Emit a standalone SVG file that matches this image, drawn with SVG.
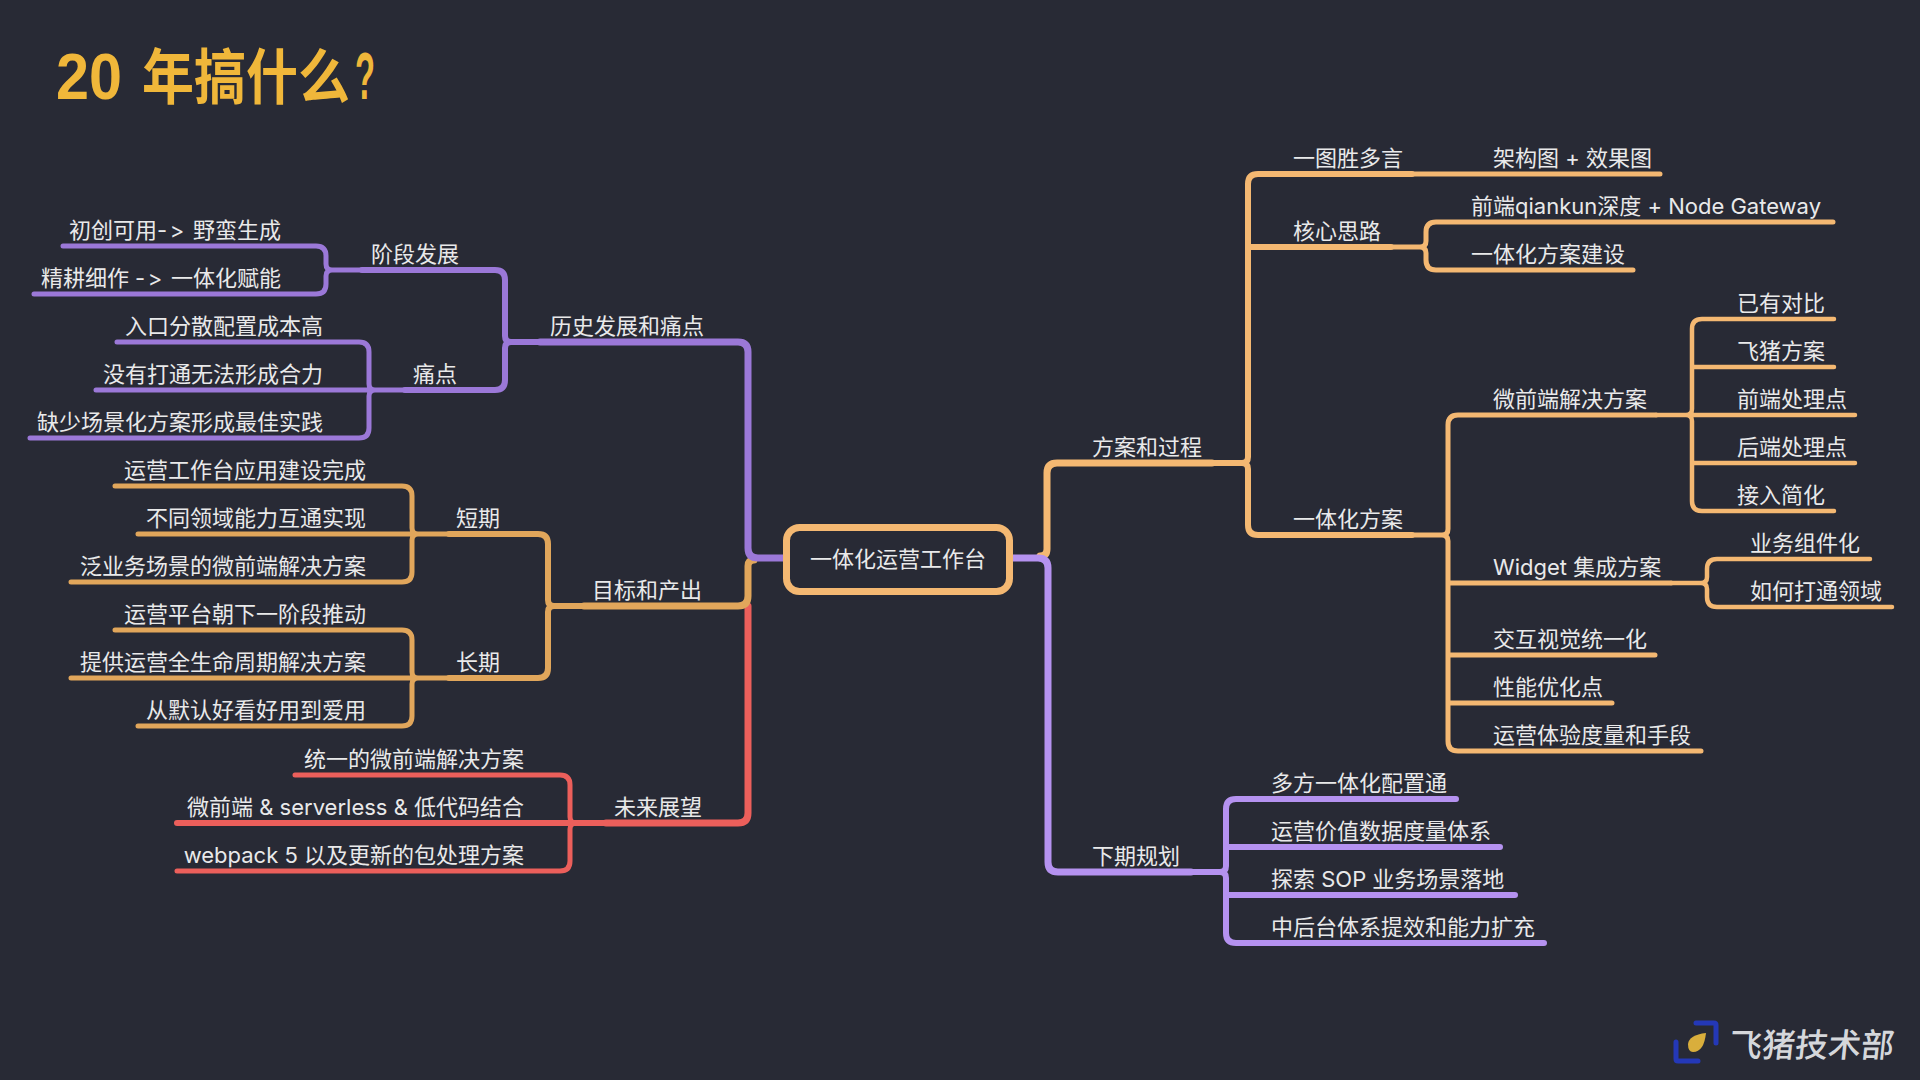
<svg xmlns="http://www.w3.org/2000/svg" width="1920" height="1080" viewBox="0 0 1920 1080">
<style>
text{font-family:"Inter","Noto Sans CJK SC",sans-serif;font-size:22px;fill:#e9e9ea;font-variant-ligatures:none;font-feature-settings:"calt" 0,"liga" 0}
.e{text-anchor:end}
.a{letter-spacing:2.5px}
path{fill:none;stroke-linecap:round}
.pl{stroke:#9b78d8}.ol{stroke:#e1a65b}.r{stroke:#ec5f5b}.or{stroke:#f4b872}.pr{stroke:#b592f0}
.w7{stroke-width:7}.w6{stroke-width:6}.w5{stroke-width:5}.w4{stroke-width:4.5}
</style>
<rect width="1920" height="1080" fill="#282a35"/>
<text id="title" y="99" style="font-size:60px;font-weight:700;font-family:'Liberation Sans','Noto Sans CJK SC',sans-serif;fill:#f0b73a"><tspan x="56" textLength="66" lengthAdjust="spacingAndGlyphs" style="font-size:65px">20</tspan> <tspan x="142" textLength="208" lengthAdjust="spacingAndGlyphs">年搞什么</tspan><tspan x="355" textLength="20" lengthAdjust="spacingAndGlyphs" style="font-size:66px">?</tspan></text>
<g id="connectors">
<path class="r w7" d="M748,606V813Q748,823 738,823H606"/>
<path class="ol w7" d="M754,560Q748,560 748,566V596Q748,606 738,606H584"/>
<path class="pl w7" d="M785,558H758Q748,558 748,548V352Q748,342 738,342H540"/>
<path class="pl w6" d="M540,342H511Q505,342 505,336V280Q505,270 495,270H362M511,342Q505,342 505,348V380Q505,390 495,390H405"/>
<path class="pl w5" d="M362,270H332Q326,270 326,264V256Q326,246 316,246H63M332,270Q326,270 326,276V284Q326,294 316,294H34"/>
<path class="pl w5" d="M405,390H96M375,390Q369,390 369,384V352Q369,342 359,342H117M375,390Q369,390 369,396V428Q369,438 359,438H30"/>
<path class="ol w6" d="M584,606H554Q548,606 548,600V544Q548,534 538,534H449M554,606Q548,606 548,612V668Q548,678 538,678H449"/>
<path class="ol w5" d="M449,534H138M418,534Q412,534 412,528V496Q412,486 402,486H115M418,534Q412,534 412,540V572Q412,582 402,582H71"/>
<path class="ol w5" d="M449,678H71M418,678Q412,678 412,672V640Q412,630 402,630H115M418,678Q412,678 412,684V716Q412,726 402,726H138"/>
<path class="r w6" d="M606,823H177"/>
<path class="r w5" d="M576,823Q570,823 570,817V785Q570,775 560,775H295M576,823Q570,823 570,829V861Q570,871 560,871H177"/>
<path class="or w7" d="M1040,556Q1047,556 1047,549V473Q1047,463 1057,463H1212"/>
<path class="pr w7" d="M1013,558H1038Q1048,558 1048,568V862Q1048,872 1058,872H1191"/>
<path class="or w6" d="M1212,463H1242Q1248,463 1248,457V184Q1248,174 1258,174H1412M1248,247H1391M1242,463Q1248,463 1248,469V525Q1248,535 1258,535H1412"/>
<path class="or w5" d="M1412,174H1660M1391,247H1420Q1426,247 1426,241V232Q1426,222 1436,222H1833M1420,247Q1426,247 1426,253V260Q1426,270 1436,270H1633"/>
<path class="or w5" d="M1412,535H1442Q1448,535 1448,529V425Q1448,415 1458,415H1656M1442,535Q1448,535 1448,541V741Q1448,751 1458,751H1701M1448,583H1671M1448,655H1655M1448,703H1612"/>
<path class="or w4" d="M1656,415H1855M1686,415Q1692,415 1692,409V329Q1692,319 1702,319H1834M1692,367H1834M1686,415Q1692,415 1692,421V501Q1692,511 1702,511H1834M1692,463H1855"/>
<path class="or w4" d="M1671,583H1701Q1707,583 1707,577V569Q1707,559 1717,559H1870M1701,583Q1707,583 1707,589V597Q1707,607 1717,607H1892"/>
<path class="pr w6" d="M1191,872H1220Q1226,872 1226,866V809Q1226,799 1236,799H1456M1226,847H1500M1226,895H1515M1220,872Q1226,872 1226,878V933Q1226,943 1236,943H1544"/>
</g>
<g id="root"><rect x="786.5" y="527.5" width="223" height="64" rx="13" fill="#282a35" stroke="#f4b872" stroke-width="7"/><text x="898" y="567" text-anchor="middle">一体化运营工作台</text></g>
<g id="n-history"><text class="e" x="704" y="334">历史发展和痛点</text></g>
<g id="n-stage"><text class="e" x="459" y="262">阶段发展</text></g>
<g id="n-s1"><text class="e" x="281" y="238">初创可用<tspan class="a">-&gt;</tspan> 野蛮生成</text></g>
<g id="n-s2"><text class="e" x="281" y="286">精耕细作 <tspan class="a">-&gt;</tspan> 一体化赋能</text></g>
<g id="n-pain"><text class="e" x="457" y="382">痛点</text></g>
<g id="n-p1"><text class="e" x="323" y="334">入口分散配置成本高</text></g>
<g id="n-p2"><text class="e" x="323" y="382">没有打通无法形成合力</text></g>
<g id="n-p3"><text class="e" x="323" y="430">缺少场景化方案形成最佳实践</text></g>
<g id="n-goal"><text class="e" x="702" y="598">目标和产出</text></g>
<g id="n-short"><text class="e" x="500" y="526">短期</text></g>
<g id="n-g1"><text class="e" x="366" y="478">运营工作台应用建设完成</text></g>
<g id="n-g2"><text class="e" x="366" y="526">不同领域能力互通实现</text></g>
<g id="n-g3"><text class="e" x="366" y="574">泛业务场景的微前端解决方案</text></g>
<g id="n-long"><text class="e" x="500" y="670">长期</text></g>
<g id="n-g4"><text class="e" x="366" y="622">运营平台朝下一阶段推动</text></g>
<g id="n-g5"><text class="e" x="366" y="670">提供运营全生命周期解决方案</text></g>
<g id="n-g6"><text class="e" x="366" y="718">从默认好看好用到爱用</text></g>
<g id="n-future"><text class="e" x="702" y="815">未来展望</text></g>
<g id="n-f1"><text class="e" x="524" y="767">统一的微前端解决方案</text></g>
<g id="n-f2"><text class="e" x="524" y="815">微前端 &amp; serverless &amp; 低代码结合</text></g>
<g id="n-f3"><text class="e" x="524" y="863">webpack 5 以及更新的包处理方案</text></g>
<g id="n-plan"><text x="1092" y="455">方案和过程</text></g>
<g id="n-a"><text x="1293" y="166">一图胜多言</text></g>
<g id="n-a1"><text x="1493" y="166">架构图 + 效果图</text></g>
<g id="n-b"><text x="1293" y="239">核心思路</text></g>
<g id="n-b1"><text x="1471" y="214">前端qiankun深度 + Node Gateway</text></g>
<g id="n-b2"><text x="1471" y="262">一体化方案建设</text></g>
<g id="n-c"><text x="1293" y="527">一体化方案</text></g>
<g id="n-c1"><text x="1493" y="407">微前端解决方案</text></g>
<g id="n-c11"><text x="1737" y="311">已有对比</text></g>
<g id="n-c12"><text x="1737" y="359">飞猪方案</text></g>
<g id="n-c13"><text x="1737" y="407">前端处理点</text></g>
<g id="n-c14"><text x="1737" y="455">后端处理点</text></g>
<g id="n-c15"><text x="1737" y="503">接入简化</text></g>
<g id="n-c2"><text x="1493" y="575">Widget 集成方案</text></g>
<g id="n-c21"><text x="1750" y="551">业务组件化</text></g>
<g id="n-c22"><text x="1750" y="599">如何打通领域</text></g>
<g id="n-c3"><text x="1493" y="647">交互视觉统一化</text></g>
<g id="n-c4"><text x="1493" y="695">性能优化点</text></g>
<g id="n-c5"><text x="1493" y="743">运营体验度量和手段</text></g>
<g id="n-next"><text x="1092" y="864">下期规划</text></g>
<g id="n-n1"><text x="1271" y="791">多方一体化配置通</text></g>
<g id="n-n2"><text x="1271" y="839">运营价值数据度量体系</text></g>
<g id="n-n3"><text x="1271" y="887">探索 SOP 业务场景落地</text></g>
<g id="n-n4"><text x="1271" y="935">中后台体系提效和能力扩充</text></g>
<g id="logo">
<path d="M1696,1023H1714Q1716,1023 1716,1025V1043" stroke="#2438b8" stroke-width="5"/>
<path d="M1676,1042V1059Q1676,1061 1678,1061H1698" stroke="#2438b8" stroke-width="5"/>
<path d="M1706,1033Q1704,1052 1693,1052Q1688,1052 1688,1044Q1689,1035 1706,1033Z" style="fill:#d9ae3c"/>
<text transform="translate(1728 1057) skewX(-6)" style="font-size:33px;font-weight:500;fill:#d5d7db">飞猪技术部</text>
</g>
</svg>
